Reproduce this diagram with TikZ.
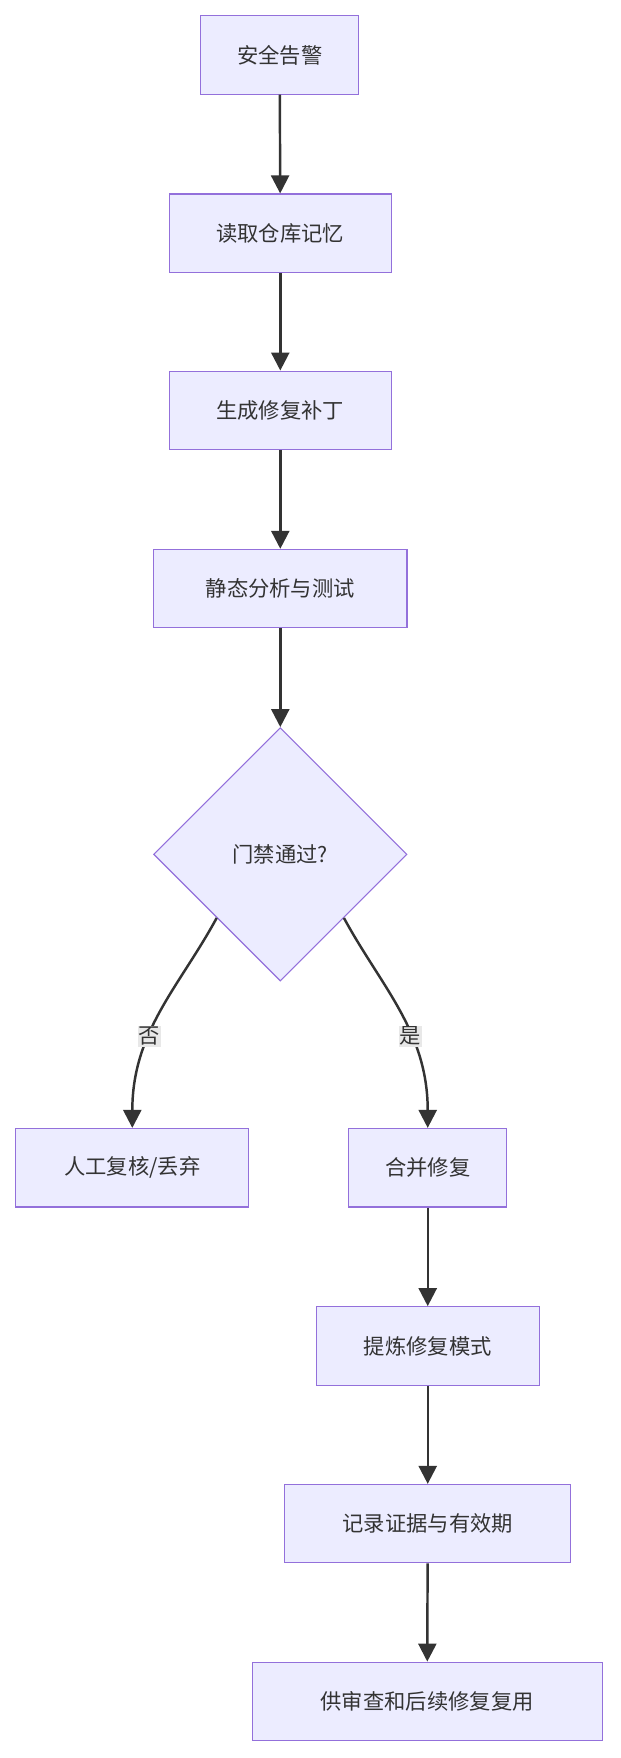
\documentclass[tikz,border=0pt]{standalone}
\usepackage{fontspec}
\newfontfamily\cjk{Noto Sans CJK SC}
\usetikzlibrary{shapes.geometric,positioning,arrows.meta}
\definecolor{boxfill}{HTML}{ECECFF}
\definecolor{boxline}{HTML}{9370DB}
\definecolor{arrowc}{HTML}{333333}
\definecolor{lblbg}{HTML}{E8E8E8}
\begin{document}
\begin{tikzpicture}[x=1pt,y=-1pt,
	task/.style={draw=boxline,fill=boxfill,line width=1pt,minimum height=70pt,inner sep=0pt,font=\cjk\fontsize{19}{22}\selectfont,text=arrowc},
	gate/.style={task,diamond,minimum width=226pt,minimum height=226pt},
	flow/.style={draw=arrowc,line width=2.2pt,-{Triangle[length=16pt,width=16pt]}},
	lbl/.style={fill=lblbg,inner sep=1pt,font=\cjk\fontsize{19}{22}\selectfont,text=arrowc}
]
	\useasboundingbox (0,0) rectangle (553,1568);
	\draw
		node[task,minimum width=141pt] (alert) at (249.5,49) {安全告警}
		node[task,minimum width=198pt] (read) at (250,208) {读取仓库记忆}
		node[task,minimum width=198pt] (patch) at (250,366) {生成修复补丁}
		node[task,minimum width=226pt] (test) at (250,525) {静态分析与测试}
		node[gate] (gate) at (250,762) {门禁通过?}
		node[task,minimum width=208pt] (review) at (118,1041.5) {人工复核/丢弃}
		node[task,minimum width=141pt] (merge) at (381.5,1041.5) {合并修复}
		node[task,minimum width=199pt] (pattern) at (381.5,1200.5) {提炼修复模式}
		node[task,minimum width=255pt] (record) at (381.5,1359) {记录证据与有效期}
		node[task,minimum width=312pt] (reuse) at (381,1517.5) {供审查和后续修复复用}
	;
	\draw[flow] (alert) -- (read);
	\draw[flow] (read) -- (patch);
	\draw[flow] (patch) -- (test);
	\draw[flow] (test) -- (gate);
	\draw[flow] (gate.south west) .. controls (160,880) and (118,920) .. node[lbl,pos=0.62] {否} (review.north);
	\draw[flow] (gate.south east) .. controls (340,880) and (381.5,920) .. node[lbl,pos=0.62] {是} (merge.north);
	\draw[flow] (merge) -- (pattern);
	\draw[flow] (pattern) -- (record);
	\draw[flow] (record) -- (reuse);
\end{tikzpicture}
\end{document}
